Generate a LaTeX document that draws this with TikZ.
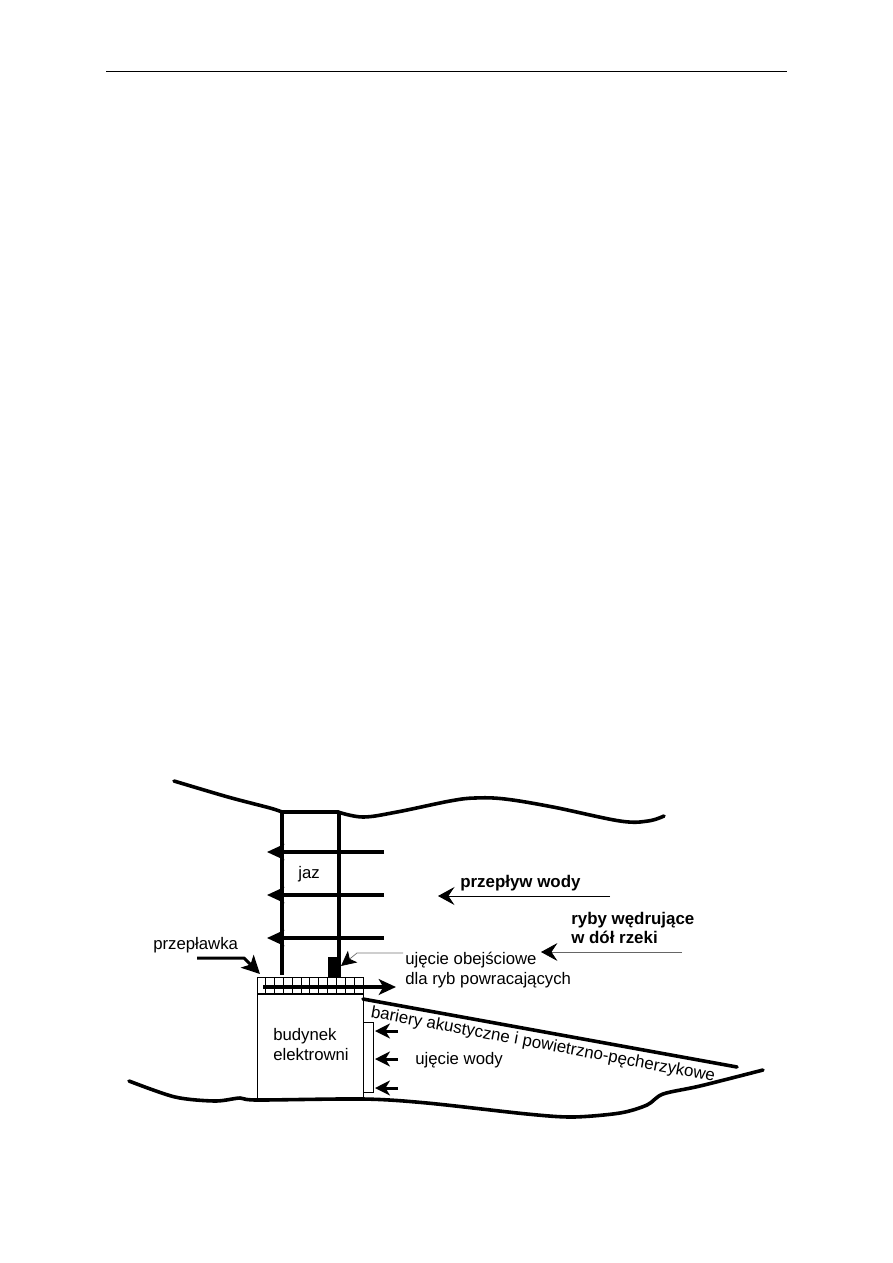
\documentclass[tikz,border=0pt]{standalone}
\usepackage{fontspec}
\setmainfont{Liberation Sans}
\usetikzlibrary{arrows.meta,calc}
\tikzset{
  bank/.style={line width=2.4pt,line join=round,line cap=round},
  pier/.style={line width=2.4pt},
  flow/.style={line width=2.1pt,-{Stealth[length=11.5pt,width=10.5pt,inset=3pt]}},
  intake/.style={line width=2pt,-{Stealth[length=10pt,width=10pt,inset=3pt]}},
  thinflow/.style={line width=.65pt,-{Stealth[length=11pt,width=12pt,inset=4pt]}},
  lbl/.style={inner sep=0pt,align=left,anchor=base west,font=\fontsize{11.2}{13}\selectfont},
  boldlbl/.style={lbl,font=\fontsize{11.3}{12.7}\selectfont\bfseries},
  wall/.style={draw,line width=.5pt,inner sep=0pt,anchor=north west}
}

\begin{document}
\begin{tikzpicture}[x=0.0235cm,y=-0.0235cm]
\useasboundingbox (0,0) rectangle (893,1263);

\draw[line width=.6pt] (106,71) -- (787,71);

\draw[bank] plot[smooth,tension=.5] coordinates {(174,781) (228,797) (270,808) (282,812)};
\draw[bank] (282,812) -- (338,812);
\draw[bank] plot[smooth,tension=.6] coordinates {(338,812) (363,817) (397,812) (450,801) (475,798) (505,799) (553,807) (620,821) (648,821) (664,816)};

\coordinate (pierA) at (282,812);
\coordinate (pierAend) at (282,975);
\coordinate (pierB) at (339,812);
\coordinate (pierBend) at (339,960);
\draw[pier] (pierA) -- (pierAend);
\draw[pier] (pierB) -- (pierBend);

\foreach \y in {852,895,938} {
  \coordinate (gateR) at (384,\y);
  \coordinate (gateL) at (267,\y);
  \draw[flow] (gateR) -- (gateL);
}

\node[lbl] (jaz) at (298,878) {jaz};

\node[fill=black,wall,minimum width=8pt,minimum height=13.3pt] (bypass) at (328,957) {};

\node[wall,minimum width=70.7pt,minimum height=11.4pt] (ladder) at (257,977) {};
\foreach \x in {1,...,11} {
  \draw[line width=.4pt] ($(ladder.north west)+(\x*8.9-.7,0)$) -- ($(ladder.south west)+(\x*8.9-.7,0)$);
}
\node[wall,minimum width=70.7pt,minimum height=71pt] (budynek) at (257,994) {};
\draw[line width=1.5pt] (budynek.north west) -- (budynek.north east);
\node[wall,minimum width=6.7pt,minimum height=46.7pt] (siatka) at (363,1022) {};

\coordinate (ladderIn) at (263,987);
\coordinate (ladderOut) at (396,987);
\draw[flow] (ladderIn) -- (ladderOut);

\coordinate (przepS) at (197,958);
\coordinate (przepE) at (260,974);
\draw[line width=2pt,line join=round,-{Stealth[length=12pt,width=12pt,inset=3pt]}] (przepS) -- (244,958) -- (przepE);
\node[lbl] (przeplawka) at (153,949) {przepławka};

\foreach \y in {1031,1059,1088} {
  \coordinate (inR) at (398,\y);
  \coordinate (inL) at (375,\y);
  \draw[intake] (inR) -- (inL);
}

\node[lbl] (ujecie) at (415,1064) {ujęcie wody};
\node[lbl] (budynekT) at (273,1060) {budynek\\elektrowni};
\node[lbl] (obejscie) at (405,984) {ujęcie obejściowe\\dla ryb powracających};

\coordinate (tipObj) at (341,966);
\draw[line width=.5pt,black!55,-{Stealth[length=10pt,width=10pt,inset=2.5pt,black]}] (403,953) -- (357,953) -- (tipObj);

\node[boldlbl] (przeplyw) at (460,887) {przepływ wody};
\coordinate (flowR) at (610,896);
\coordinate (flowL) at (438,896);
\draw[thinflow] (flowR) -- (flowL);

\node[boldlbl] (ryby) at (571,943) {ryby wędrujące\\w dół rzeki};
\coordinate (rybyR) at (682,952);
\coordinate (rybyL) at (541,952);
\draw[line width=.5pt,black!60,-{Stealth[length=11pt,width=12pt,inset=4pt,black]}] (rybyR) -- (rybyL);

\coordinate (barrierA) at (363,999);
\coordinate (barrierB) at (737,1067);
\draw[bank] (barrierA) -- (barrierB);
\node[inner sep=0pt,font=\fontsize{11.3}{12}\selectfont,rotate=-10.6] (bariery) at (543,1045) {bariery akustyczne i powietrzno-pęcherzykowe};

\draw[bank] plot[smooth,tension=.5] coordinates {(129,1081) (175,1097) (215,1101) (240,1098) (257,1100) (363,1099) (427,1103) (527,1114) (573,1117) (620,1113) (647,1105) (663,1094) (700,1086) (763,1070)};
\end{tikzpicture}
\end{document}
